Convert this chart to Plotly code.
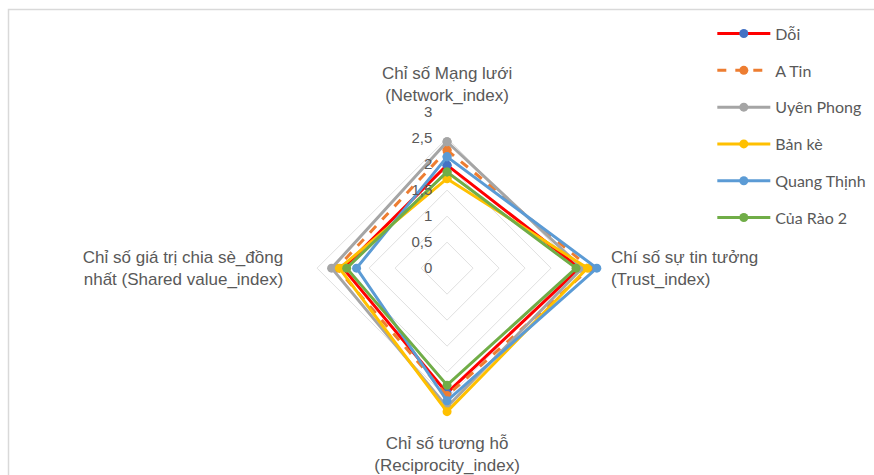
import plotly.graph_objects as go

categories = [
    "Chỉ số Mạng lưới<br>(Network_index)",
    "Chí số sự tin tưởng<br>(Trust_index)",
    "Chỉ số tương hỗ<br>(Reciprocity_index)",
    "Chỉ số giá trị chia sè_đồng<br>nhất (Shared value_index)",
]
series_names = ["Dỗi", "A Tin", "Uyên Phong", "Bản kè", "Quang Thịnh", "Của Rào 2"]
doi = [1.98, 2.55, 2.40, 2.00]
a_tin = [2.27, 2.75, 2.45, 2.12]
uyen_phong = [2.43, 2.60, 2.67, 2.22]
ban_ke = [1.72, 2.70, 2.76, 2.07]
quang_thinh = [2.14, 2.88, 2.55, 1.74]
cua_rao_2 = [1.85, 2.48, 2.25, 1.93]
series_values = [doi, a_tin, uyen_phong, ban_ke, quang_thinh, cua_rao_2]
radial_ticks = [0, 0.5, 1, 1.5, 2, 2.5, 3]

line_colors = ["#FF0000", "#ED7D31", "#A5A5A5", "#FFC000", "#5B9BD5", "#70AD47"]
marker_colors = ["#4472C4", "#ED7D31", "#A5A5A5", "#FFC000", "#5B9BD5", "#70AD47"]
dashes = ["solid", "dash", "solid", "solid", "solid", "solid"]

fig = go.Figure()
for name, vals, lc, mc, d in zip(series_names, series_values, line_colors, marker_colors, dashes):
    fig.add_trace(go.Scatterpolar(
        r=vals + vals[:1],
        theta=categories + categories[:1],
        mode="lines+markers",
        name=name,
        legendgroup=name,
        line=dict(color=lc, width=3, dash=d),
        marker=dict(color=mc, size=9),
    ))

fig.update_layout(
    width=874, height=475,
    margin=dict(l=0, r=0, t=0, b=0),
    paper_bgcolor="white",
    plot_bgcolor="white",
    separators=", ",
    font=dict(family="Liberation Sans, Arial, sans-serif", size=17, color="#595959"),
    polar=dict(
        domain=dict(x=[0.333, 0.690], y=[0.107, 0.764]),
        bgcolor="white",
        gridshape="linear",
        radialaxis=dict(
            range=[0, 3],
            tickvals=radial_ticks,
            angle=90,
            tickangle=90,
            showline=False,
            gridcolor="#E0E0E0",
            gridwidth=1,
            ticks="outside",
            ticklen=9,
            tickcolor="rgba(0,0,0,0)",
            tickfont=dict(size=15, color="#595959"),
            side="counterclockwise",
        ),
        angularaxis=dict(
            direction="clockwise",
            rotation=90,
            showgrid=False,
            showline=False,
            ticks="outside",
            ticklen=4,
            tickcolor="rgba(0,0,0,0)",
            tickfont=dict(size=17, color="#595959"),
        ),
    ),
    legend=dict(
        x=0.815, y=0.965, xanchor="left", yanchor="top",
        font=dict(family="Lato, Liberation Sans, sans-serif", size=16, color="#595959"),
        traceorder="grouped",
        tracegroupgap=13,
        itemwidth=53,
        bgcolor="rgba(0,0,0,0)",
    ),
    shapes=[dict(
        type="rect", xref="paper", yref="paper",
        x0=8.5 / 874, x1=1.05, y0=-0.05, y1=1 - 9.5 / 475,
        line=dict(color="#D9D9D9", width=1.5),
        layer="below",
    )],
)

fig.write_html("out.html")
